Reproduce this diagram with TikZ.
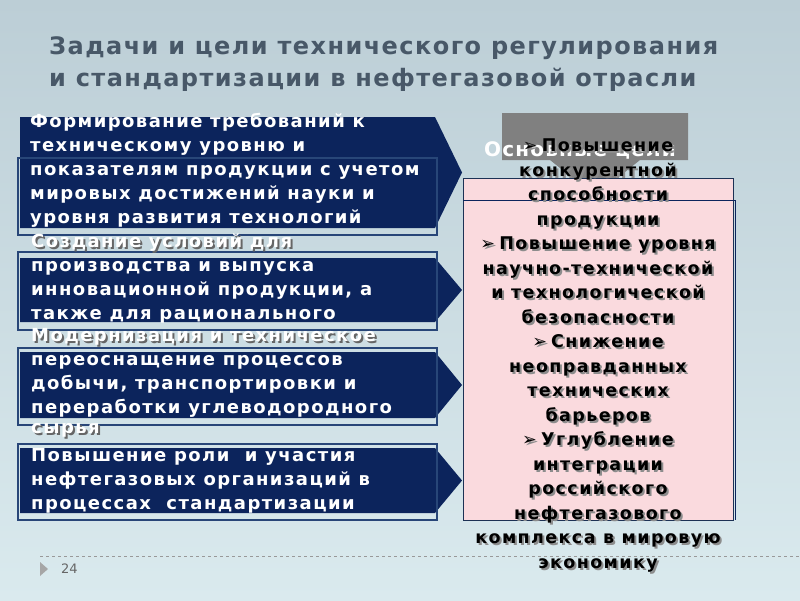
\documentclass[tikz,border=0pt]{standalone}
\usepackage{fontspec}
\setmainfont{DejaVu Sans}
\newfontfamily\wide[LetterSpace=8]{DejaVu Sans}
\newfontfamily\widet[LetterSpace=6]{DejaVu Sans}
\begin{document}
\begin{tikzpicture}[x=1pt,y=-1pt,
  chev/.style={fill=navy,draw=none},
  frame/.style={draw=frameblue,line width=1.6pt},
  ltxt/.style={anchor=north west,align=left,text=white,font=\wide\bfseries\fontsize{18}{24}\selectfont,inner sep=0pt},
  rtxt/.style={anchor=north,align=center,font=\wide\bfseries\fontsize{17.5}{24.5}\selectfont,inner sep=0pt},
  ]
\definecolor{navy}{RGB}{12,36,92}
\definecolor{frameblue}{RGB}{40,70,120}
\definecolor{bgtop}{RGB}{188,206,214}
\definecolor{bgbot}{RGB}{218,234,238}
\definecolor{titlec}{RGB}{72,88,104}
\definecolor{pinkc}{RGB}{250,218,222}
\definecolor{grayhdr}{RGB}{128,128,128}
\useasboundingbox (0,0) rectangle (800,600);
\shade[top color=bgtop,bottom color=bgbot] (0,0) rectangle (800,600);
% title
\node[anchor=north west,align=left,text=titlec,font=\widet\bfseries\fontsize{24}{32}\selectfont,inner sep=0pt] (title) at (49,36) {Задачи и цели технического регулирования\\и стандартизации в нефтегазовой отрасли};
% left chevrons
\foreach \t/\b/\n in {117/228/a,258/322/b,352/418/c,448/513/d}{
  \fill[chev] (20,\t) -- (435,\t) -- (462,{(\t+\b)/2}) -- (435,\b) -- (20,\b) -- cycle;
}
\draw[frame] (18,158) rectangle (437,235);
\draw[frame] (18,252) rectangle (437,330);
\draw[frame] (18,348) rectangle (437,425);
\draw[frame] (18,444) rectangle (437,520);
\node[ltxt] (t1) at (30,113) {Формирование требований к\\техническому уровню и\\показателям продукции с учетом\\мировых достижений науки и\\уровня развития технологий};
\node[ltxt,text=black!60] at (33,236) {Создание условий для};
\node[ltxt] (t2) at (31,234) {Создание условий для\\производства и выпуска\\инновационной продукции, а\\также для рационального};
\node[ltxt,text=black!60] at (33,330) {Модернизация и техническое};
\node[ltxt] (t3) at (31,328) {Модернизация и техническое\\переоснащение процессов\\добычи, транспортировки и\\переработки углеводородного};
\node[ltxt,text=black!60] at (33,425) {сырья};
\node[ltxt] at (31,423) {сырья};
\node[ltxt] (t4) at (31,448) {Повышение роли~ и участия\\нефтегазовых организаций в\\процессах~ стандартизации};
% right
\fill[grayhdr] (502,113) -- (688,113) -- (688,160) -- (640,160) -- (595,196) -- (550,160) -- (502,160) -- cycle;
\node[font=\widet\bfseries\fontsize{20}{20}\selectfont,text=white,inner sep=0pt] (hdr) at (580,150) {Основные цели};
\fill[pinkc] (463,178) rectangle (733,520);
\draw[frameblue!70!black,line width=0.8pt] (463,178) rectangle (733,520);
\draw[navy,line width=0.8pt] (463,200) -- (735,200) -- (735,520);
\def\rt{\textbf{➢}\,Повышение\\конкурентной\\способности\\продукции\\\textbf{➢}\,Повышение уровня\\научно-технической\\и технологической\\безопасности\\\textbf{➢}\,Снижение\\неоправданных\\технических\\барьеров\\\textbf{➢}\,Углубление\\интеграции\\российского\\нефтегазового\\комплекса в мировую\\экономику}
\node[rtxt,text=black!45] at (600,141) {\rt};
\node[rtxt] (goals) at (598,139) {\rt};
% footer
\draw[black!40,dashed,line width=0.6pt] (40,556) -- (800,556);
\fill[black!35] (40,562) -- (48,569) -- (40,576) -- cycle;
\node[anchor=west,text=black!60,font=\fontsize{13}{14}\selectfont,inner sep=0pt] (pg) at (61,569) {24};
\end{tikzpicture}
\end{document}
